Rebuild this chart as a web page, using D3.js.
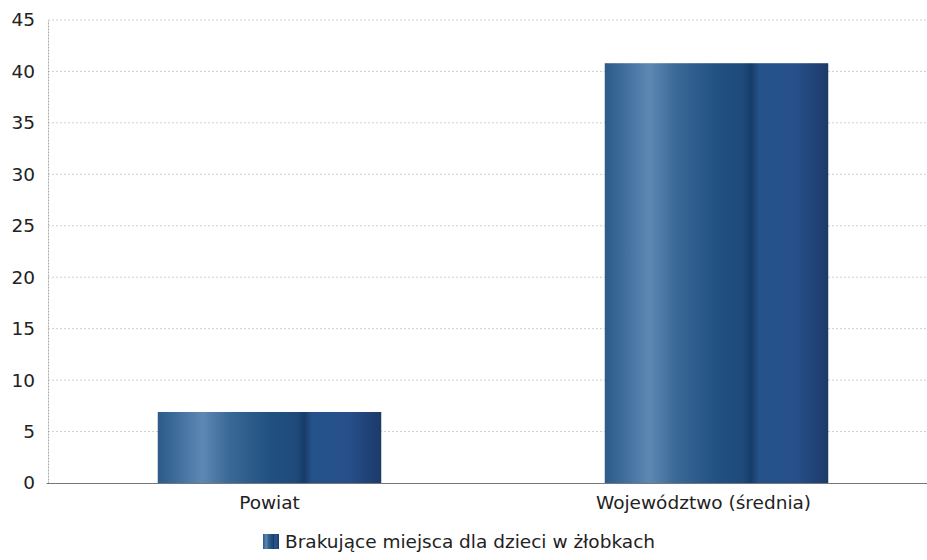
<!DOCTYPE html>
<html><head><meta charset="utf-8">
<script src="https://cdn.jsdelivr.net/npm/d3@7"></script>
<style>body{margin:0;background:#fff;}svg{display:block;}text{font-family:"DejaVu Sans",Verdana,sans-serif;fill:#222;}</style>
</head><body>
<svg id="c" width="927" height="560"></svg>
<script>
const categories = ["Powiat", "Województwo (średnia)"];
const values = [6.9, 40.8];
const yTicks = [0, 5, 10, 15, 20, 25, 30, 35, 40, 45];
const legendLabel = "Brakujące miejsca dla dzieci w żłobkach";

const svg = d3.select("#c");
const x = d3.scaleBand().domain(categories).range([46, 940]).paddingInner(0.5).paddingOuter(0.25);
const y = d3.scaleLinear().domain([0, 45]).range([483, 20]);

const defs = svg.append("defs");
const g = defs.append("linearGradient").attr("id", "bg").attr("x1", "0").attr("x2", "1").attr("y1", "0").attr("y2", "0");
[[0, "#2c5b8a"], [0.08, "#3d6c9b"], [0.2, "#5e88b4"], [0.32, "#3a6897"], [0.5, "#215181"], [0.62, "#1e4a7a"], [0.655, "#183c68"], [0.69, "#24528a"], [0.85, "#27508b"], [1, "#1c3a68"]]
  .forEach(([o, c]) => g.append("stop").attr("offset", o).attr("stop-color", c));

// grid
svg.append("g").selectAll("line").data(yTicks.filter(d => d > 0)).join("line")
  .attr("x1", 48).attr("x2", 927).attr("y1", d => y(d)).attr("y2", d => y(d))
  .attr("stroke", "#cfcfcf").attr("stroke-width", 1).attr("stroke-dasharray", "2,2");

// y axis
const ya = svg.append("g").attr("transform", "translate(48,0)")
  .call(d3.axisLeft(y).tickValues(yTicks).tickSize(0).tickPadding(13));
ya.select(".domain").attr("stroke", "#aaa").attr("stroke-dasharray", "2,1");
ya.selectAll("text").attr("font-size", 18.5).attr("fill", "#222").style("font-family", "DejaVu Sans, sans-serif");

// bars
svg.append("g").selectAll("rect").data(values).join("rect")
  .attr("x", (d, i) => x(categories[i])).attr("width", x.bandwidth())
  .attr("y", d => y(d)).attr("height", d => y(0) - y(d))
  .attr("fill", "url(#bg)");

// x axis
const xa = svg.append("g").attr("transform", "translate(0,483)")
  .call(d3.axisBottom(x).tickSize(0).tickPadding(13));
xa.select(".domain").attr("stroke", "#777").attr("stroke-width", 1.2);
xa.selectAll("text").attr("font-size", 18.5).attr("fill", "#222").style("font-family", "DejaVu Sans, sans-serif")
  .attr("dx", (d, i) => i === 1 ? -13 : 0);

// legend
const lg = svg.append("g").attr("transform", "translate(263,534)");
lg.append("rect").attr("width", 16).attr("height", 15).attr("fill", "url(#bg)");
lg.append("text").attr("x", 22).attr("y", 14).attr("font-size", 18.5).text(legendLabel);
</script>
</body></html>
